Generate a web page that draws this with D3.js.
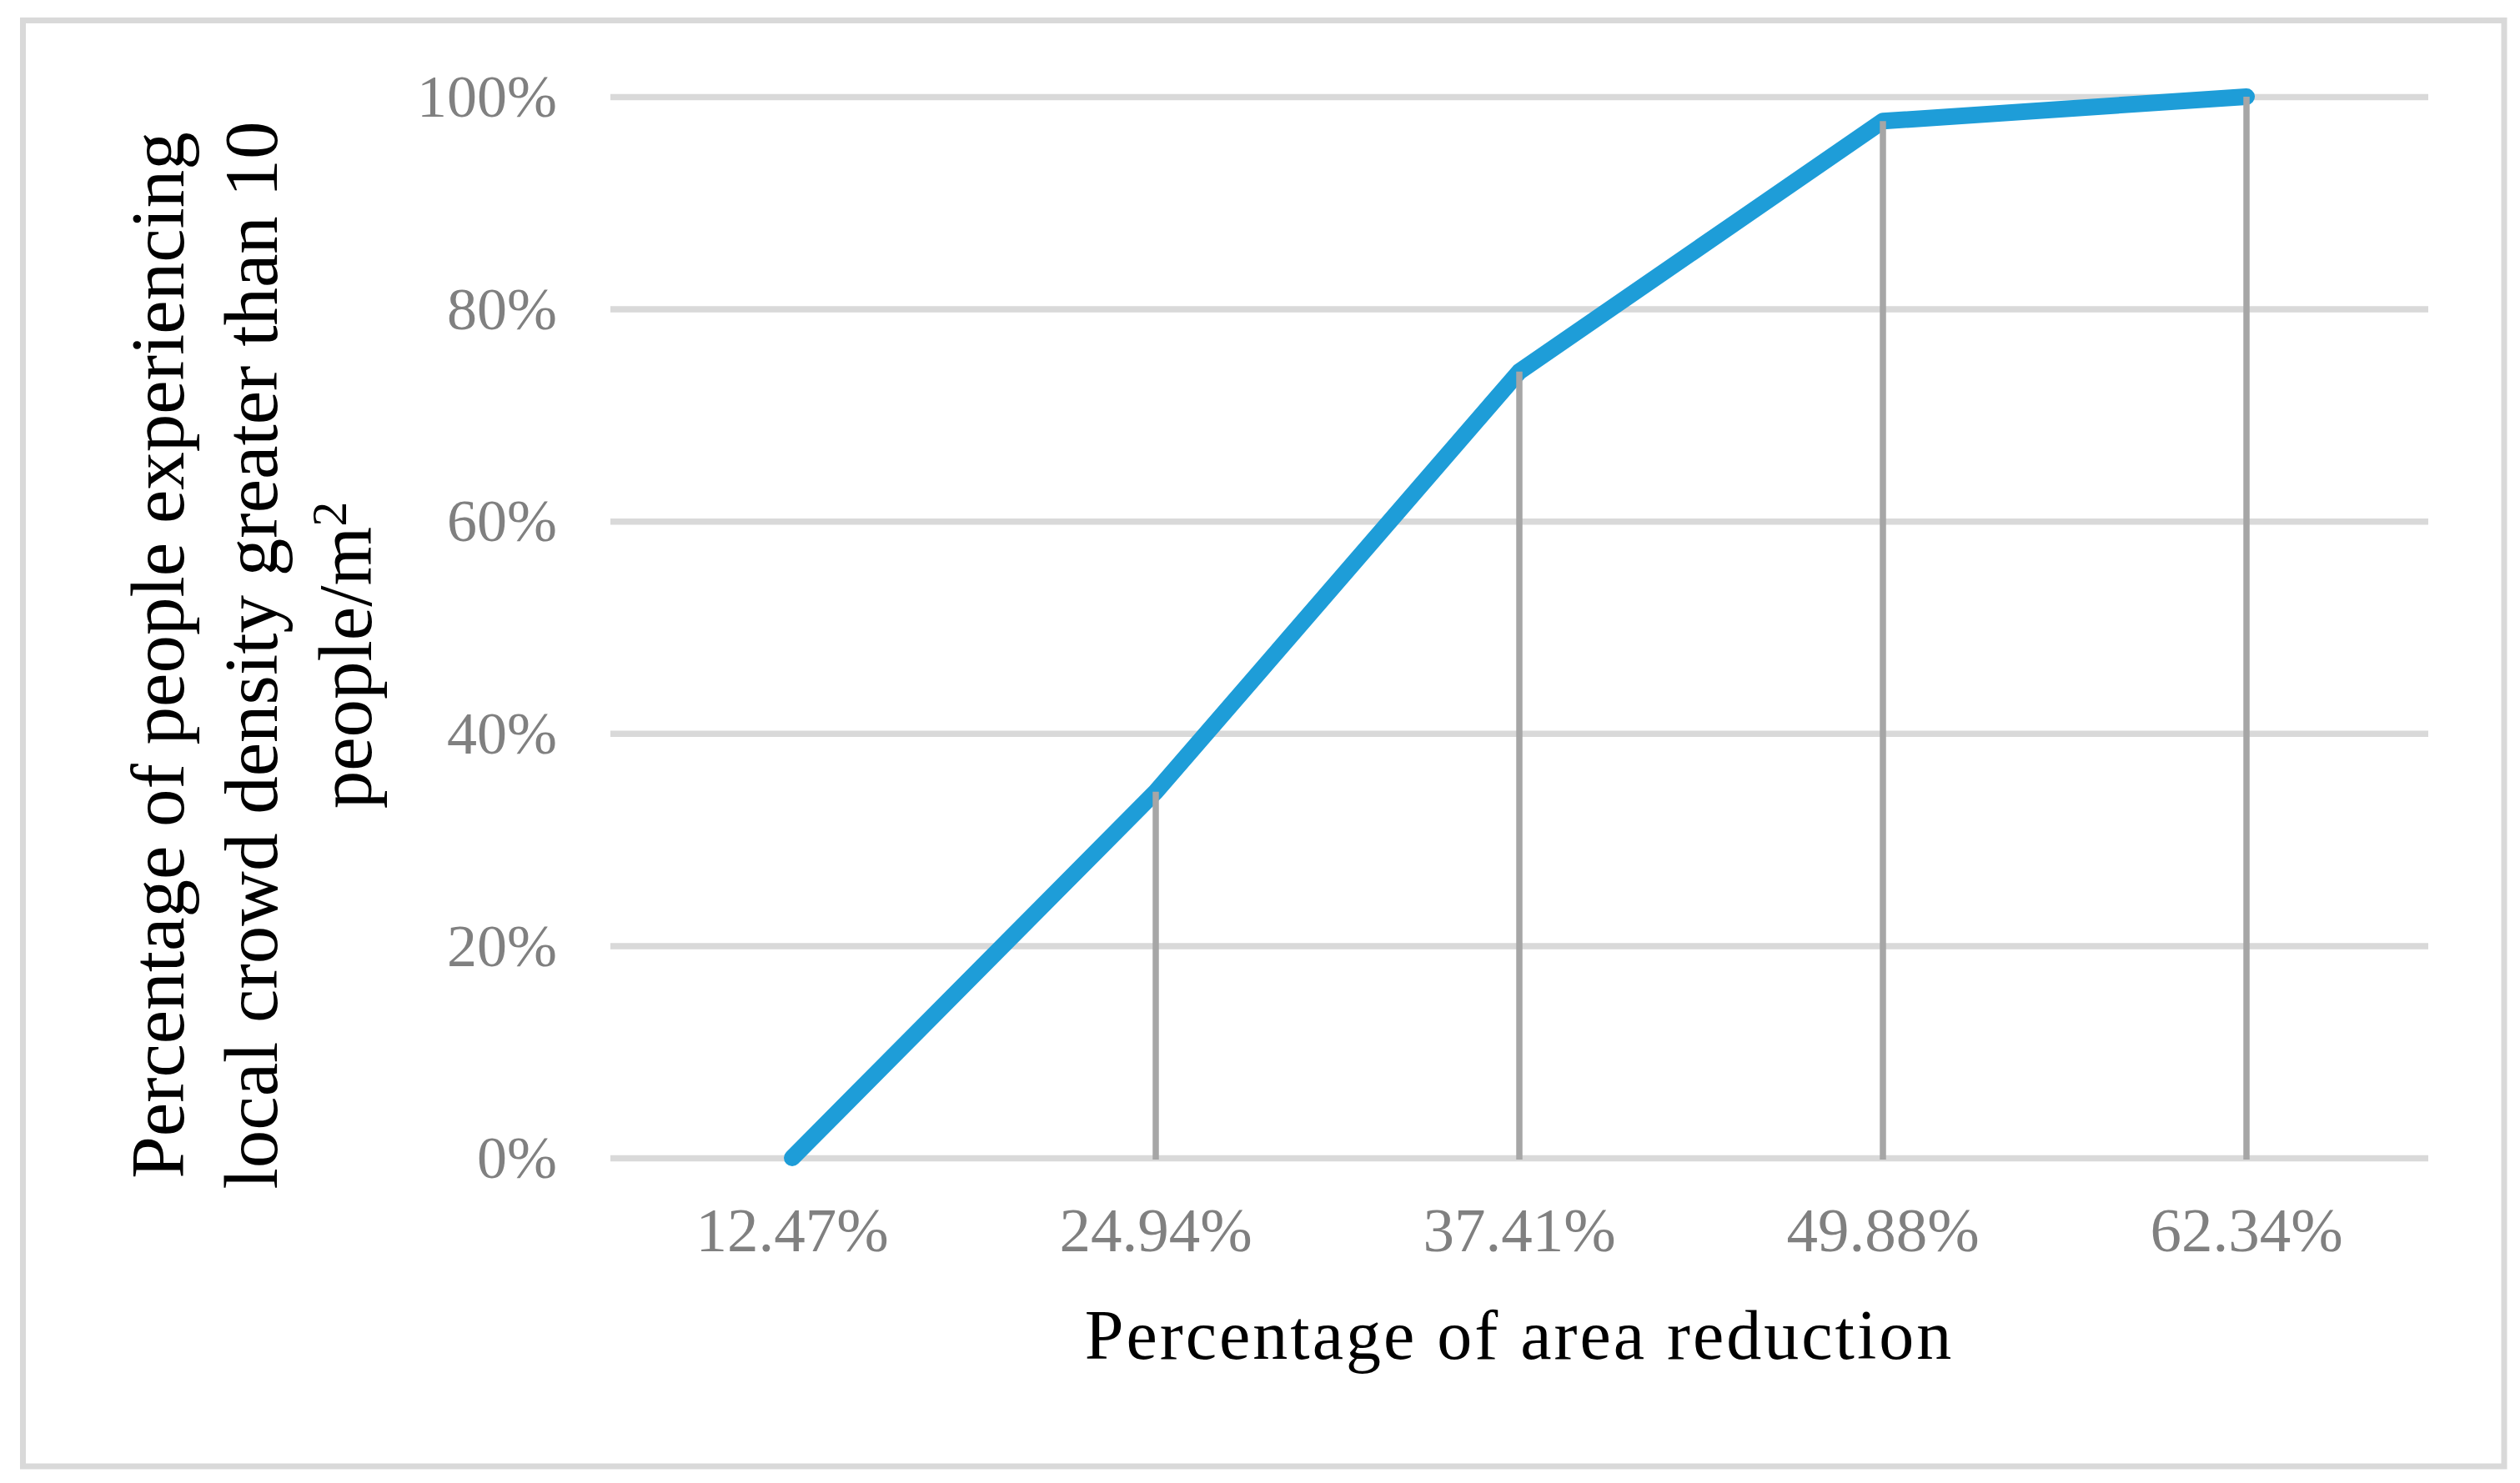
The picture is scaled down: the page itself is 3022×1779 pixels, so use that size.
<!DOCTYPE html>
<html>
<head>
<meta charset="utf-8">
<script src="https://cdn.jsdelivr.net/npm/d3@7"></script>
<style>
  body { margin: 0; background: #fff; }
  text { font-family: "Liberation Serif", "Times New Roman", serif; }
</style>
</head>
<body>
<svg id="chart" width="3022" height="1779"></svg>
<script>
// data
const categories = ["12.47%", "24.94%", "37.41%", "49.88%", "62.34%"];
const shares = [0, 0.345, 0.741, 0.977, 1.0];
const yTicks = [0, 0.2, 0.4, 0.6, 0.8, 1.0];
const yTitleLines = ["Percentage of people experiencing", "local crowd density greater than 10"];
const xTitle = "Percentage of area reduction";

const svg = d3.select("#chart");

// outer frame
svg.append("rect")
   .attr("x", 27.5).attr("y", 24.5)
   .attr("width", 3003 - 27.5).attr("height", 1759 - 24.5)
   .attr("fill", "#fff")
   .attr("stroke", "#d9d9d9")
   .attr("stroke-width", 7);

const plot = { left: 732, right: 2912, top: 116, bottom: 1389 };

const x = d3.scaleBand()
            .domain(categories)
            .range([plot.left, plot.right]);

const y = d3.scaleLinear()
            .domain([0, 1])
            .range([plot.bottom, plot.top]);

const data = categories.map((c, i) => ({ cat: c, v: shares[i] }));
const cx = d => x(d.cat) + x.bandwidth() / 2;

// y axis + gridlines
const yAxis = svg.append("g")
   .attr("transform", `translate(${plot.left},0)`)
   .call(d3.axisLeft(y)
           .tickValues(yTicks)
           .tickFormat(d3.format(".0%"))
           .tickSize(-(plot.right - plot.left))
           .tickPadding(64));
yAxis.select(".domain").remove();
yAxis.selectAll(".tick line")
     .attr("stroke", "#d9d9d9")
     .attr("stroke-width", 7.5);
yAxis.selectAll(".tick text")
     .attr("fill", "#808080")
     .attr("font-size", 72)
     .attr("dy", "0.33em")
     .style("font-family", "'Liberation Serif', serif");

// x axis labels
const xAxis = svg.append("g")
   .attr("transform", `translate(0,${plot.bottom})`)
   .call(d3.axisBottom(x).tickSize(0).tickPadding(59));
xAxis.select(".domain").remove();
xAxis.selectAll(".tick text")
     .attr("fill", "#808080")
     .attr("font-size", 75)
     .style("font-family", "'Liberation Serif', serif");

// series line
const line = d3.line()
               .x(cx)
               .y(d => y(d.v));

svg.append("path")
   .datum(data)
   .attr("d", line)
   .attr("fill", "none")
   .attr("stroke", "#1e9dd8")
   .attr("stroke-width", 20)
   .attr("stroke-linejoin", "round")
   .attr("stroke-linecap", "round");

// drop lines (drawn over the series, as in the original)
svg.append("g")
   .selectAll("line")
   .data(data.filter(d => d.v > 0))
   .enter()
   .append("line")
   .attr("x1", cx).attr("x2", cx)
   .attr("y1", d => y(d.v))
   .attr("y2", y(0) + 2)
   .attr("stroke", "#a6a6a6")
   .attr("stroke-width", 7.5);

// y axis title (three lines, rotated)
const yTitleCenter = 786;
const baselines = [220, 332, 445];
yTitleLines.forEach((t, i) => {
  svg.append("text")
     .attr("transform", `translate(${baselines[i]},${yTitleCenter}) rotate(-90)`)
     .attr("text-anchor", "middle")
     .attr("font-size", 91)
     .attr("fill", "#000")
     .text(t);
});
const third = svg.append("text")
   .attr("transform", `translate(${baselines[2]},${yTitleCenter}) rotate(-90)`)
   .attr("text-anchor", "middle")
   .attr("font-size", 91)
   .attr("fill", "#000");
third.append("tspan").text("people/m");
third.append("tspan")
     .attr("font-size", 60)
     .attr("dy", -30)
     .text("2");

// x axis title
svg.append("text")
   .attr("x", (plot.left + plot.right) / 2)
   .attr("y", 1630)
   .attr("text-anchor", "middle")
   .attr("font-size", 84)
   .attr("letter-spacing", 3)
   .attr("fill", "#000")
   .text(xTitle);
</script>
</body>
</html>
